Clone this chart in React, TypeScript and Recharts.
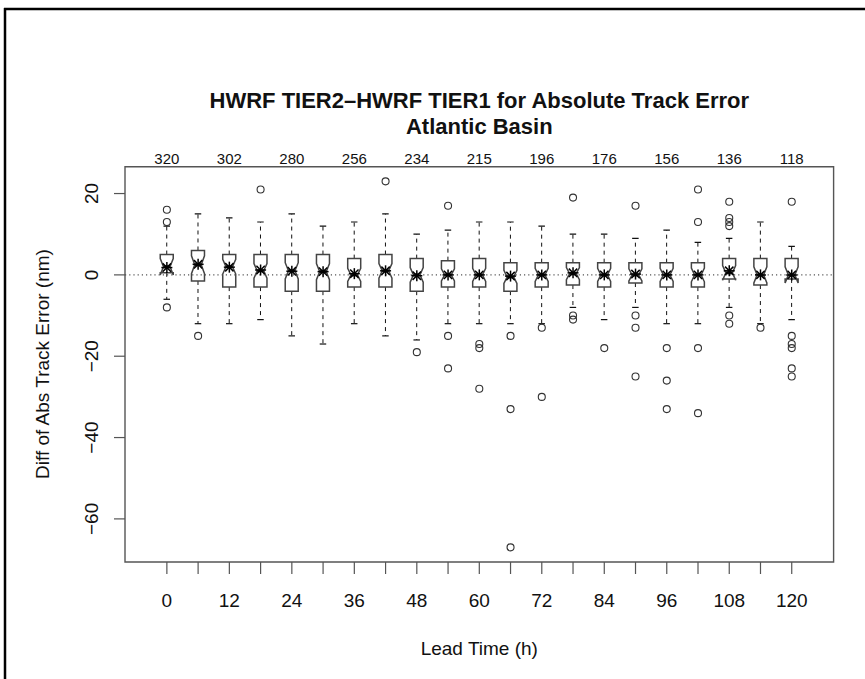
import React from 'react';
import { ComposedChart, Bar, Scatter, XAxis, YAxis, ReferenceLine, ReferenceArea } from 'recharts';

// ---- data ----
const hours = [0, 6, 12, 18, 24, 30, 36, 42, 48, 54, 60, 66, 72, 78, 84, 90, 96, 102, 108, 114, 120];
const lowerWhisker = [-6, -12, -12, -11, -15, -17, -12, -15, -16, -12, -12, -12, -12, -8, -11, -8, -12, -12, -8, -12, -11];
const lowerQuartile = [0.5, -1.5, -3, -3, -4, -4, -3, -3, -4, -3, -3, -4, -3, -2.5, -3, -2, -3, -3, -1, -2.5, -1];
const medians = [2, 2.5, 2, 1, 1, 0.8, 0, 1, 0, 0, 0, -0.5, 0, 0.3, 0, 0, 0, 0, 0.5, 0, 0];
const upperQuartile = [5, 6, 5, 5, 5, 5, 4, 5, 4, 3.5, 4, 3, 3, 3, 3, 3, 3, 3, 4, 4, 4];
const upperWhisker = [12, 15, 14, 13, 15, 12, 13, 15, 10, 11, 13, 13, 12, 10, 10, 9, 11, 8, 9, 13, 7];
const means = [1.8, 2.6, 1.9, 1.2, 0.9, 0.8, 0.3, 1, -0.2, 0, 0, -0.3, 0, 0.5, 0, 0.2, 0, 0, 1, 0, 0];
const notchHalf = [2, 2.2, 1.8, 1.8, 2, 2, 1.6, 1.8, 1.8, 1.5, 1.6, 1.6, 1.6, 1.5, 1.6, 1.5, 1.6, 1.7, 1.8, 2, 2];
const outliers: number[][] = [
  [16, 13, -8], [-15], [], [21], [], [], [], [23], [-19], [17, -15, -23], [-17, -18, -28],
  [-15, -33, -67], [-13, -30], [19, -10, -11], [-18], [17, -10, -13, -25], [-18, -26, -33],
  [21, 13, -18, -34], [18, 14, 13, 12, -10, -12], [-13], [18, -15, -17, -18, -23, -25],
];
const countHours = [0, 12, 24, 36, 48, 60, 72, 84, 96, 108, 120];
const caseCounts = [320, 302, 280, 256, 234, 215, 196, 176, 156, 136, 118];
const labeledHours = [0, 12, 24, 36, 48, 60, 72, 84, 96, 108, 120];
const yTicks = [-60, -40, -20, 0, 20];
const xDomain = [-8.04, 128.04];
const yDomain = [-70.6, 26.6];

const FONT = "'Liberation Sans', Arial, Helvetica, sans-serif";

const rows = hours.map((h, i) => ({
  hour: h,
  range: [lowerWhisker[i], upperWhisker[i]],
  lo: lowerWhisker[i],
  q1: lowerQuartile[i],
  med: medians[i],
  q3: upperQuartile[i],
  hi: upperWhisker[i],
  notch: notchHalf[i],
}));
const outlierPoints = hours.flatMap((h, i) => outliers[i].map((v) => ({ hour: h, value: v })));
const meanPoints = hours.map((h, i) => ({ hour: h, value: means[i] }));
const countRows = countHours.map((h) => ({ hour: h, value: 0 }));

const fmt = (v: number) => (v < 0 ? '\u2212' + Math.abs(v) : String(v));

function BoxShape(props: any) {
  const { x, y, width, height, payload } = props;
  if (payload == null || height == null) return null;
  const { lo, q1, med, q3, hi, notch } = payload;
  const px = (v: number) => y + ((hi - v) / (hi - lo)) * height;
  const cx = x + width / 2;
  const hw = width / 2;
  const xl = cx - hw, xr = cx + hw, xln = cx - hw * 0.5, xrn = cx + hw * 0.5;
  const nLo = med - notch, nHi = med + notch;
  const pts = [
    [xl, px(q1)], [xl, px(nLo)], [xln, px(med)], [xl, px(nHi)], [xl, px(q3)],
    [xr, px(q3)], [xr, px(nHi)], [xrn, px(med)], [xr, px(nLo)], [xr, px(q1)],
  ].map((p) => p.join(',')).join(' ');
  const st = hw * 0.5;
  return (
    <g>
      <line x1={cx} x2={cx} y1={px(q3)} y2={px(hi)} stroke="#111" strokeWidth={1} strokeDasharray="4 4" />
      <line x1={cx} x2={cx} y1={px(q1)} y2={px(lo)} stroke="#111" strokeWidth={1} strokeDasharray="4 4" />
      <line x1={cx - st} x2={cx + st} y1={px(hi)} y2={px(hi)} stroke="#111" strokeWidth={1.2} />
      <line x1={cx - st} x2={cx + st} y1={px(lo)} y2={px(lo)} stroke="#111" strokeWidth={1.2} />
      <polygon points={pts} fill="#fff" stroke="#444" strokeWidth={1.5} />
      <line x1={xln} x2={xrn} y1={px(med)} y2={px(med)} stroke="#111" strokeWidth={3} />
    </g>
  );
}

function OutlierShape(props: any) {
  const { cx, cy } = props;
  if (cx == null || cy == null) return null;
  return <circle cx={cx} cy={cy} r={3.5} fill="none" stroke="#333" strokeWidth={1.1} />;
}

function MeanShape(props: any) {
  const { cx, cy } = props;
  if (cx == null || cy == null) return null;
  const a = 5.5, d = 4.2;
  return (
    <g stroke="#000" strokeWidth={1.5}>
      <line x1={cx - a} x2={cx + a} y1={cy} y2={cy} />
      <line x1={cx} x2={cx} y1={cy - a} y2={cy + a} />
      <line x1={cx - d} x2={cx + d} y1={cy - d} y2={cy + d} />
      <line x1={cx - d} x2={cx + d} y1={cy + d} y2={cy - d} />
    </g>
  );
}

function YTick(props: any) {
  const { x, y, payload } = props;
  const bx = x - 14;
  return (
    <text x={bx} y={y} transform={`rotate(-90 ${bx} ${y})`} textAnchor="middle" fontFamily={FONT} fontSize={19} fill="#111">
      {fmt(payload.value)}
    </text>
  );
}

function XTick(props: any) {
  const { x, y, payload } = props;
  if (!labeledHours.includes(payload.value)) return null;
  return (
    <text x={x} y={y + 31} textAnchor="middle" fontFamily={FONT} fontSize={19} fill="#111">
      {payload.value}
    </text>
  );
}

function TopTick(props: any) {
  const { x, y, payload } = props;
  const idx = countHours.indexOf(payload.value);
  if (idx < 0) return null;
  return (
    <text x={x} y={y - 3} textAnchor="middle" fontFamily={FONT} fontSize={15} fill="#111">
      {caseCounts[idx]}
    </text>
  );
}

export default function App() {
  const W = 865, H = 679;
  return (
    <div style={{ position: 'relative', width: W, height: H, background: '#fff', overflow: 'hidden' }}>
      <style>{'body{margin:0;}'}</style>
      <ComposedChart width={W} height={H} data={rows} margin={{ top: 136.7, right: 31.4, bottom: 0, left: 0 }}>
        <XAxis
          xAxisId="top"
          orientation="top"
          type="number"
          dataKey="hour"
          domain={xDomain}
          allowDataOverflow
          ticks={countHours}
          height={30}
          axisLine={false}
          tickLine={false}
          tickSize={0}
          tickMargin={0}
          tick={<TopTick />}
          interval={0}
        />
        <XAxis
          type="number"
          dataKey="hour"
          domain={xDomain}
          allowDataOverflow
          ticks={hours}
          interval={0}
          height={117}
          axisLine={false}
          tickSize={12}
          tickMargin={2}
          tickLine={{ stroke: '#555', strokeWidth: 1.2 }}
          tick={<XTick />}
        />
        <YAxis
          type="number"
          domain={yDomain}
          allowDataOverflow
          ticks={yTicks}
          interval={0}
          width={125}
          axisLine={false}
          tickSize={11}
          tickMargin={2}
          tickLine={{ stroke: '#555', strokeWidth: 1.2 }}
          tick={<YTick />}
        />
        <ReferenceLine y={0} stroke="#555" strokeWidth={1.2} strokeDasharray="1.2 3" />
        <Bar dataKey="range" barSize={13} shape={<BoxShape />} isAnimationActive={false} />
        <Scatter data={outlierPoints} dataKey="value" shape={<OutlierShape />} isAnimationActive={false} />
        <Scatter data={meanPoints} dataKey="value" shape={<MeanShape />} isAnimationActive={false} />
        <Scatter xAxisId="top" data={countRows} dataKey="value" shape={() => null} isAnimationActive={false} />
        <ReferenceArea
          x1={xDomain[0]}
          x2={xDomain[1]}
          y1={yDomain[0]}
          y2={yDomain[1]}
          fill="none"
          fillOpacity={0}
          stroke="#555"
          strokeWidth={1.4}
          ifOverflow="visible"
        />
      </ComposedChart>
      <svg width={W} height={H} style={{ position: 'absolute', left: 0, top: 0, pointerEvents: 'none' }}>
        <line x1={5} x2={5} y1={8} y2={H + 5} stroke="#000" strokeWidth={2.5} />
        <line x1={4} x2={W + 5} y1={9} y2={9} stroke="#000" strokeWidth={2.5} />
        <text x={479.3} y={108} textAnchor="middle" fontFamily={FONT} fontWeight="bold" fontSize={22} fill="#111">
          HWRF TIER2–HWRF TIER1 for Absolute Track Error
        </text>
        <text x={479.3} y={134} textAnchor="middle" fontFamily={FONT} fontWeight="bold" fontSize={22} fill="#111">
          Atlantic Basin
        </text>
        <text x={49} y={364} transform="rotate(-90 49 364)" textAnchor="middle" fontFamily={FONT} fontSize={19} fill="#111">
          Diff of Abs Track Error (nm)
        </text>
        <text x={479.3} y={655} textAnchor="middle" fontFamily={FONT} fontSize={19} fill="#111">
          Lead Time (h)
        </text>
      </svg>
    </div>
  );
}
